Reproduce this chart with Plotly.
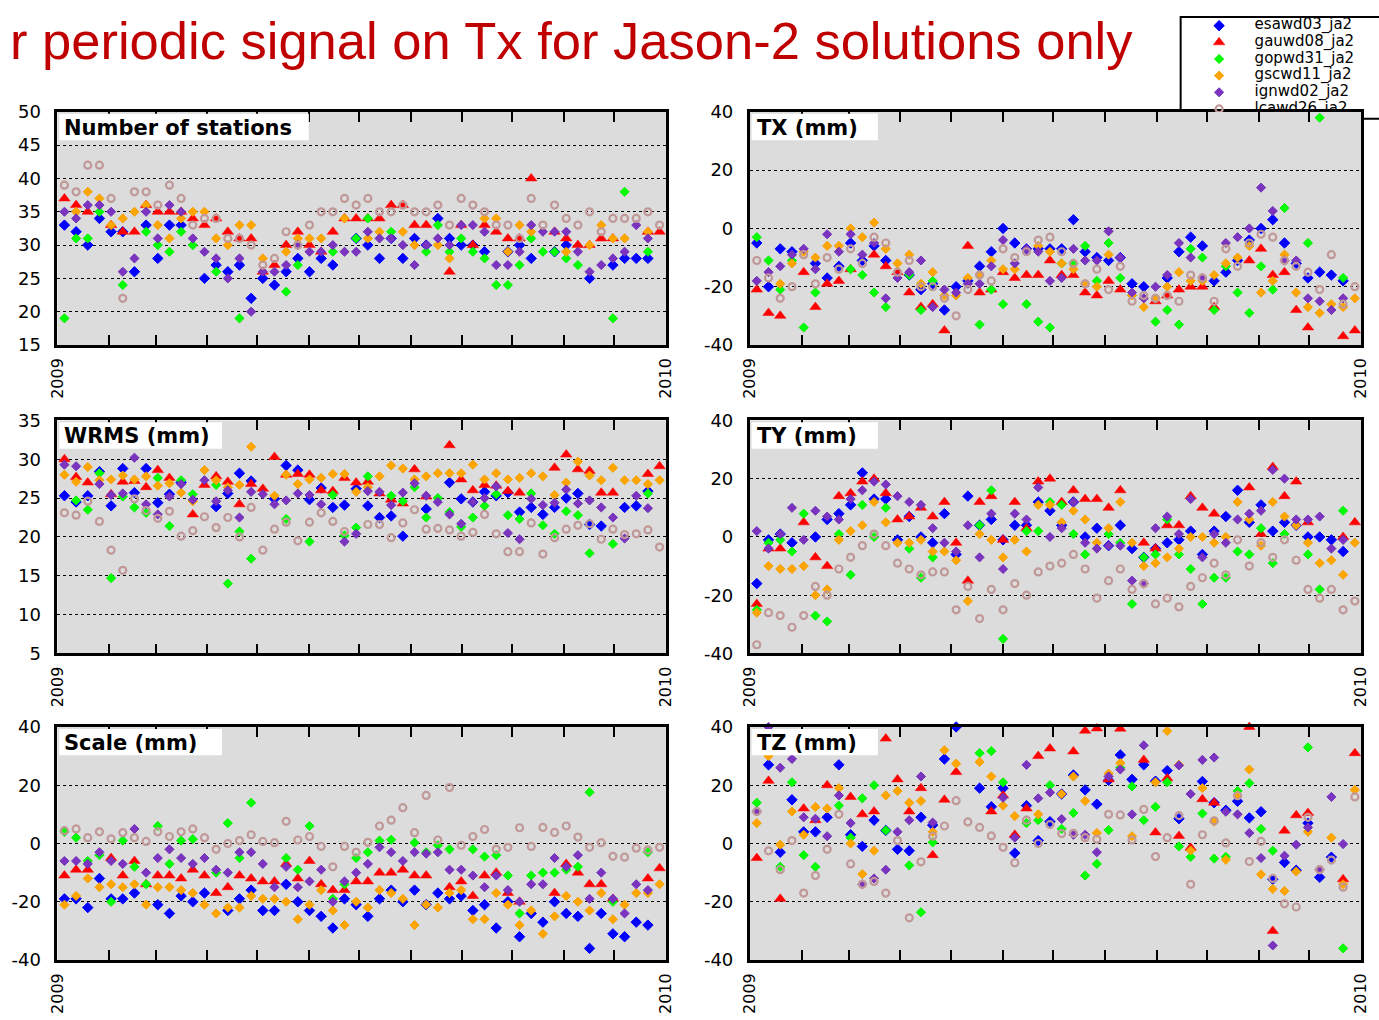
import pandas as pd
import plotly.graph_objects as go

FIG_W, FIG_H = 1379, 1020
N = None

# ---- time axis -----------------------------------------------------------
weeks = pd.date_range("2009-01-05 06:00", periods=52, freq="7D")
month_ticks = pd.date_range("2009-01-01", "2010-01-01", freq="MS")
month_labels = ["2009"] + [""] * 11 + ["2010"]

solutions = ["esawd03_ja2", "gauwd08_ja2", "gopwd31_ja2",
             "gscwd11_ja2", "ignwd02_ja2", "lcawd26_ja2"]

# ---- y tick values per panel type -----------------------------------------
stations_ticks = [15, 20, 25, 30, 35, 40, 45, 50]
wrms_ticks = [5, 10, 15, 20, 25, 30, 35]
mm_ticks = [-40, -20, 0, 20, 40]

# ---- Number of stations --------------------------------------------------
stations_esa = [33,32,30,34,32,32,26,33,28,33,33,N,25,27,26,27,22,25,24,26,28,26,28,27,N,31,30,28,31,28,31,30,34,31,30,30,29,N,29,30,28,N,29,30,N,25,N,27,28,28,28,N]
stations_gau = [37,36,35,N,33,32,32,36,35,35,35,34,33,34,32,31,31,26,27,30,32,30,29,32,34,34,34,34,36,36,33,33,N,26,33,30,33,32,31,31,40,N,32,31,30,30,31,31,N,N,32,32]
stations_gop = [19,31,31,35,N,24,N,32,30,29,32,30,N,26,N,19,N,N,N,23,27,N,N,29,N,31,34,N,32,N,N,29,33,29,31,29,28,24,24,27,31,29,29,28,27,N,N,19,38,N,29,N]
stations_gsc = [N,35,38,37,33,34,35,36,33,31,34,35,35,31,30,33,33,28,N,29,31,31,31,N,34,N,31,32,N,32,30,N,30,28,N,N,34,34,29,33,32,N,N,29,N,30,33,31,31,N,32,N]
stations_ign = [35,34,36,36,35,26,28,35,31,36,35,31,29,28,25,28,20,26,26,27,30,29,29,30,29,29,32,31,31,30,27,30,31,30,33,33,32,27,27,29,33,32,32,32,29,26,27,28,29,33,31,N]
stations_lca = [39,38,42,42,37,22,38,38,36,39,37,33,34,34,31,31,30,27,28,32,30,33,35,35,37,36,37,35,35,36,35,35,36,33,37,36,35,33,33,31,37,33,36,34,33,35,32,34,34,34,35,33]

# ---- TX (mm) -------------------------------------------------------------
tx_esa = [-5,-20,-7,-8,N,-12,-17,-13,-5,-11,-6,-11,N,-16,-21,-19,-28,-20,-18,-13,-8,0,-5,-7,-7,-7,-7,3,-8,-10,-11,-10,-19,-20,N,-17,-8,-3,-6,-18,-15,-11,-4,0,3,-5,-12,-17,-15,-16,-18,N]
tx_gau = [-21,-29,-30,N,-15,-27,-19,-18,-14,N,-9,-13,-15,-22,-27,-26,-35,N,-6,-22,-21,-15,-17,-16,-16,-11,-16,-16,-22,-23,-18,-21,N,N,-25,-23,-21,-20,-20,-27,N,N,-11,-7,-16,-15,-28,-34,N,N,-37,-35]
tx_gop = [-3,-11,-21,-11,-34,-22,N,N,-14,-16,-22,-27,N,-16,-28,-18,N,N,N,-33,-21,-26,N,-26,-32,-34,-12,-12,-6,-18,-5,-17,-23,N,-32,-28,-33,-7,-10,-28,-13,-22,-29,-13,-21,7,N,-5,38,N,-17,N]
tx_gsc = [N,N,-19,-12,-8,-10,-6,-6,0,-3,2,-7,-12,-9,-19,-15,-23,-23,-17,-16,-11,-14,-14,N,-6,-8,-12,-14,-19,-20,-9,N,-23,-27,-24,-20,-15,-18,-18,-16,-12,-10,-6,-22,-18,-9,-22,-27,-29,-26,-27,-24]
tx_ign = [-18,-15,-13,-9,-7,-14,-2,-8,-2,-9,-5,-24,-17,-15,-11,-27,-21,-22,-19,-19,-13,-4,-12,-7,-8,-18,-17,-7,-11,-11,-1,-10,-22,-24,-20,-16,-5,-10,-17,N,-5,-3,0,14,6,-11,-11,-24,-25,-28,-24,N]
tx_lca = [-11,-17,-24,-20,-9,-19,-10,-14,-7,-12,-3,-5,-15,-11,-20,-20,-24,-30,-21,-16,-18,-7,-10,-8,-4,-3,-8,-12,-19,-14,-21,-13,-25,-23,-24,-23,-25,-16,-17,-25,-7,-13,-5,-2,-3,-11,-13,-15,-21,-9,-26,-20]

# ---- WRMS (mm) -----------------------------------------------------------
wrms_esa = [25.3,24.5,25.3,28.4,24.0,28.8,25.7,28.8,24.4,25.5,27.0,N,N,23.9,25.6,28.2,27.2,N,24.9,29.2,28.6,24.8,26.3,23.8,24.1,26.2,24.0,22.5,22.7,20.1,N,23.6,N,27.0,24.9,24.5,25.8,25.3,25.7,23.2,23.8,22.9,23.8,25.0,25.6,21.6,21.4,N,23.8,24.0,25.9,N]
wrms_gau = [30.0,27.7,27.0,N,25.5,27.1,27.2,26.4,28.6,27.6,N,22.9,26.7,27.8,27.1,24.2,26.8,26.2,30.3,28.0,28.1,28.0,26.0,25.9,27.6,27.0,27.1,25.6,24.8,24.3,28.7,25.2,N,31.8,27.4,26.0,26.7,26.6,25.9,25.7,N,N,28.9,30.6,28.7,28.5,25.7,25.7,N,N,28.1,29.1]
wrms_gop = [N,24.7,23.5,28.2,14.7,25.2,23.8,23.1,27.6,21.4,27.3,25.5,N,26.7,14.0,20.7,17.2,N,N,22.3,N,19.4,N,25.4,20.2,21.2,27.8,N,25.3,24.6,26.4,22.5,25.0,23.2,21.3,22.5,24.0,25.5,22.8,22.3,25.6,21.5,20.4,23.3,22.8,17.9,N,19.1,N,N,25.6,N]
wrms_gsc = [28.0,27.1,29.0,27.3,27.4,27.9,27.4,27.8,26.6,26.9,25.7,24.6,28.6,27.3,26.4,26.7,31.6,N,25.3,28.0,26.8,27.4,27.6,28.1,28.1,25.8,26.4,27.8,29.2,28.8,27.4,27.8,28.2,28.2,28.2,29.3,27.4,28.2,27.4,27.6,28.2,27.8,25.4,27.0,29.7,27.9,27.3,28.9,27.3,27.3,26.8,27.3]
wrms_ign = [29.3,29.1,N,26.8,25.4,25.6,30.2,24.2,22.9,25.2,26.8,24.8,27.3,24.6,26.0,22.5,25.8,25.5,24.2,24.7,25.6,25.4,24.2,N,19.4,20.4,25.9,25.8,24.1,25.7,26.9,25.3,24.5,22.9,21.7,24.5,25.0,26.5,20.5,19.7,24.9,24.1,24.4,26.1,24.3,24.7,23.8,22.5,19.8,25.3,23.7,N]
wrms_lca = [23.1,22.8,24.6,22.0,18.3,15.7,24.9,23.4,22.4,23.3,20.1,20.8,22.6,21.2,22.5,20.0,23.8,18.3,21.0,21.9,19.5,21.9,23.1,22.0,20.7,N,21.6,21.6,19.9,21.8,23.5,21.0,21.1,20.9,20.1,20.6,22.9,20.4,18.1,18.1,21.8,17.8,19.9,21.0,21.5,21.7,19.7,21.0,20.3,20.4,20.9,18.7]

# ---- TY (mm) -------------------------------------------------------------
ty_esa = [-16,-1,1,-2,N,0,6,8,11,22,13,13,-1,7,0,-2,8,-6,14,4,6,-1,4,4,12,9,4,12,0,3,-3,4,-4,-7,-4,-2,-1,2,-6,2,7,16,5,11,2,5,4,0,0,-1,-5,N]
ty_gau = [-23,-4,-4,N,5,-7,-10,14,15,19,20,15,6,7,10,7,12,-2,-15,12,14,-1,12,3,19,20,12,16,13,13,10,16,N,-2,-4,4,4,14,10,8,N,N,17,1,24,14,19,5,N,N,0,5]
ty_gop = [-25,-2,-1,-5,8,-27,-29,1,-13,11,0,10,N,-4,-14,-7,N,N,N,4,16,-35,N,2,2,12,11,1,-6,N,1,-2,-23,-7,-6,6,-6,-11,-23,-14,-14,-5,-6,3,-9,1,N,-6,-18,N,9,N]
ty_gsc = [-26,-10,-11,-11,-10,-20,-18,-1,2,4,12,5,-2,-2,-1,-5,-5,-8,-22,1,-1,-7,-1,-5,11,11,5,9,6,-2,3,12,-2,-10,-9,-7,-4,0,0,-2,0,12,6,-3,12,7,4,-2,-9,-8,-13,-2]
ty_ign = [2,-4,1,10,-1,9,7,6,13,16,19,18,14,12,11,3,-2,-5,4,-7,8,-11,8,6,17,0,3,12,-2,-4,-3,-3,-15,-16,3,7,1,13,-7,1,-2,6,8,9,23,20,6,6,7,-4,-1,N]
ty_lca = [-37,-26,-27,-31,-27,-17,-20,-11,-7,-3,1,-3,-9,-11,-13,-12,-12,-25,-17,-28,-18,-25,-16,-20,-12,-10,-9,-6,-11,-21,-15,-11,-18,-16,-23,-21,-24,-17,-14,-9,-13,-1,-10,-2,-7,-1,-8,-18,-21,-18,-25,-22]

# ---- Scale (mm) ----------------------------------------------------------
scale_esa = [-19,-19,-22,-12,-19,-19,-17,N,-21,-24,-18,-20,-17,N,-23,-19,-16,-23,-23,-14,-20,-23,-25,-29,-19,-21,-25,-19,-16,-20,-16,-21,-17,-19,-18,-23,-21,-29,-20,-32,-24,-27,-20,-24,-25,-36,-24,-31,-32,-27,-28,N]
scale_gau = [-11,-9,-9,N,-5,-11,-6,-14,-11,-11,-12,-9,-11,-17,-15,-11,-12,-13,-13,-7,-12,-6,-14,-16,-16,-13,-13,-10,-10,-9,-11,-11,N,-15,-13,-18,-11,-10,-17,-20,N,N,-17,-7,-10,-14,-14,-19,N,N,-12,-8.5]
scale_gop = [4,2,-6,-4,-20,1,-8,-14,6,-7,1,1.5,N,-10,7,-5,14,N,N,-5,-9,6,N,-19,-14,-5,-3,1,1.3,N,0.3,-3,-0.6,-2,N,-2,-4.5,-4,-11,-24,-11,-10,-10,-9,-8,17.6,N,-20,N,N,-3,N]
scale_gsc = [-21,-18,-12,-15,-14,-15,-14,-21,-15,-15,-16,-17,-21,-24,-22,-22,-18,-19,-19,-20,-26,-21,-16,-23,-28,-20,-22,-16,-17,-19,-28,-21,-22,-17,-16,-26,-26,-17,-21,-28,-23,-31,-25,-18,-20,-23,-17,-26,-21,-17,-17,-14]
scale_ign = [-6,-6,-7,-3,-6,-7,5,-10,-5,-2,-5,-7,-5,-9,-10,-3,-3,-7,-15,-8,-15,-13,-9,-20,-13,-10,-7,-1.3,-3,-6,-3,-3.5,-3,-9,-9,-11,-15,-11,-16,-20,-14,-14,-5,-8,-4,-19,-10,-19,-24,-14,-16,N]
scale_lca = [4.4,5,2,4,1.6,3.7,2,0.7,4,2.4,4,5,2,-2,0,1,3,0.7,0.3,7.6,1.2,2.4,-1,-8,-1,-3,0.4,6,8,12.3,3.7,16.5,1.2,19.2,-0.6,2.4,4.8,-2,-1.3,5.4,-1,5.5,3.8,6,2.2,-1.3,0.3,-4.4,-4.7,-1.6,-2.2,-1.3]

# ---- TZ (mm) -------------------------------------------------------------
tz_esa = [N,27,-3,15,4,4,9,27,3,-1,8,4.5,-2,-2.5,9,6.3,29,40,N,19,12.6,19,-3.3,13,1,7.5,17,23.5,18.4,13.5,21.7,30.4,22,27,21.4,25,8.5,N,21.3,14,11.4,14.5,8.8,10.9,-12.3,-6.5,-9.2,7,-11.6,-4.7,N,N]
tz_gau = [-5,21.5,-19,N,12,8,20,N,16,10,11,36,22,11,19,-4,15,24.5,N,N,11,16.5,3,12,30,32.6,N,31.6,38.7,39.5,22,39.4,N,28.7,3.8,22.4,2.6,-1.5,15.2,14,N,N,40,N,-30,4.4,9.7,10.5,N,N,-12.3,31]
tz_gop = [14,N,-8,21,-4,-8,N,13,2,15.5,20,4.5,N,-7.5,-23.6,0.4,N,N,N,31,31.7,21,N,7,8,20,5,10.5,-11,-7,4.6,26,19.6,8,12.6,21,-1,-4.6,10.3,-5.2,-4.6,18,20.7,5,-2.5,N,N,33,N,N,-36,N]
tz_gsc = [7,30,-0.4,11,3,12.5,12,19,0,-10.5,-2.5,16.5,18,14,14.6,4,32,27.4,N,28,23,13,9.4,N,10,N,17,23,14.6,3.6,24,27.6,2.5,N,21,38.6,27,-2.4,19,7.5,-5.6,16.6,25.4,-10.6,-15.6,-16.3,-9.6,4,-9,2,-14,18.4]
tz_ign = [11,40,26,29,9,8.5,2.5,16.5,7,-14,-12,-9,4,8,23,7.2,N,N,N,N,N,15.7,2,27,15.5,17.5,8.4,3,3,-3,23,25.4,10,33.7,N,N,26.8,17,28.7,29.5,10.9,10,3.6,-5,-35,-4.2,-0.4,5.5,-9,16,-0.2,N]
tz_lca = [11,-2.5,-9,1,-17,-11,-2,10,-7,-14,-13,-17,1,-25.5,-6.3,2.5,6,14.7,7.4,5.5,2.6,-1.3,-6.6,8,0,6.5,3.4,3.5,2,1.5,10,9.8,1.2,11.7,-4.5,2,9.6,-14,3,7.8,0.2,16.4,-6.2,0.7,-12,-20.7,-21.8,9,-9,-5.7,-15,16]

# ---- marker styling per solution ----------------------------------------
styles = [
    dict(symbol="diamond", size=8, color="#0000ff", line=dict(width=1, color="#0000ff")),
    dict(symbol="triangle-up", size=10, color="#ff0000", line=dict(width=0.5, color="#ff0000")),
    dict(symbol="diamond", size=7, color="#00ff00", line=dict(width=1, color="#00ee00")),
    dict(symbol="diamond", size=7, color="#ffa500", line=dict(width=1, color="#f5a000")),
    dict(symbol="diamond", size=7, color="#7b33c0", line=dict(width=1, color="#7030b8")),
    dict(symbol="circle-open", size=7, color="#c09898", line=dict(width=2.2, color="#c09898")),
]

# panel definitions: title, series, y ticks, x extent, y extent, title box width
LEFT = (48, 665)
RIGHT = (750, 1370)
ROWS = [(103, 341), (418, 656), (731, 969)]
panels = [
    ("Number of stations", [stations_esa, stations_gau, stations_gop, stations_gsc, stations_ign, stations_lca], stations_ticks, LEFT, ROWS[0], 255),
    ("TX (mm)", [tx_esa, tx_gau, tx_gop, tx_gsc, tx_ign, tx_lca], mm_ticks, RIGHT, ROWS[0], 130),
    ("WRMS (mm)", [wrms_esa, wrms_gau, wrms_gop, wrms_gsc, wrms_ign, wrms_lca], wrms_ticks, LEFT, ROWS[1], 167),
    ("TY (mm)", [ty_esa, ty_gau, ty_gop, ty_gsc, ty_ign, ty_lca], mm_ticks, RIGHT, ROWS[1], 130),
    ("Scale (mm)", [scale_esa, scale_gau, scale_gop, scale_gsc, scale_ign, scale_lca], mm_ticks, LEFT, ROWS[2], 167),
    ("TZ (mm)", [tz_esa, tz_gau, tz_gop, tz_gsc, tz_ign, tz_lca], mm_ticks, RIGHT, ROWS[2], 130),
]


def px_x(x):
    return x / FIG_W


def px_y(y):
    return 1 - y / FIG_H


TICK_FONT = dict(family="DejaVu Sans", size=18, color="black")

fig = go.Figure()
layout = dict(
    width=FIG_W, height=FIG_H,
    margin=dict(l=0, r=0, t=0, b=0),
    paper_bgcolor="white",
    plot_bgcolor="rgba(0,0,0,0)",
    showlegend=False,
)
shapes = []
annotations = []

# legend frame (partly hidden behind the TX panel)
shapes.append(dict(type="rect", xref="paper", yref="paper", layer="below",
                   x0=px_x(1187), x1=px_x(1392), y0=px_y(110), y1=px_y(6),
                   fillcolor="white", line=dict(color="black", width=2)))

for i, (title, series, yticks, (xl, xr), (yt, yb), box_w) in enumerate(panels):
    n = i + 1
    xa = "x" if n == 1 else f"x{n}"
    ya = "y" if n == 1 else f"y{n}"
    xkey = "xaxis" if n == 1 else f"xaxis{n}"
    ykey = "yaxis" if n == 1 else f"yaxis{n}"

    layout[xkey] = dict(
        domain=[px_x(xl), px_x(xr)], anchor=ya, type="date",
        range=[month_ticks[0], month_ticks[-1]],
        tickmode="array", tickvals=list(month_ticks), ticktext=month_labels,
        tickangle=-90, ticks="inside", ticklen=10, tickwidth=2, tickcolor="black",
        showline=True, linewidth=2.5, linecolor="black", mirror="allticks",
        showgrid=False, zeroline=False, tickfont=dict(family="DejaVu Sans", size=16, color="black"),
        ticklabelstandoff=4, fixedrange=True,
    )
    layout[ykey] = dict(
        domain=[px_y(yb), px_y(yt)], anchor=xa,
        range=[yticks[0], yticks[-1]],
        tickmode="array", tickvals=yticks, ticktext=[str(v) for v in yticks],
        ticks="", showline=True, linewidth=2.5, linecolor="black", mirror=True,
        showgrid=True, gridcolor="black", gridwidth=1.2, griddash="dot",
        zeroline=False, tickfont=TICK_FONT, ticklabelstandoff=10, fixedrange=True,
    )

    # grey plotting area
    shapes.append(dict(type="rect", xref="paper", yref="paper", layer="below",
                       x0=px_x(xl), x1=px_x(xr), y0=px_y(yb), y1=px_y(yt),
                       fillcolor="#dcdcdc", line=dict(width=0)))
    # white title box in the upper-left corner
    shapes.append(dict(type="rect", xref="paper", yref="paper", layer="above",
                       x0=px_x(xl + 2), x1=px_x(xl + box_w), y0=px_y(yt + 29), y1=px_y(yt + 2),
                       fillcolor="white", line=dict(width=0)))
    annotations.append(dict(xref="paper", yref="paper", x=px_x(xl + 5), y=px_y(yt + 16),
                            xanchor="left", yanchor="middle", showarrow=False,
                            text=f"<b>{title}</b>",
                            font=dict(family="DejaVu Sans", size=21, color="black")))

    for name, values, st in zip(solutions, series, styles):
        fig.add_trace(go.Scatter(
            x=weeks, y=values, mode="markers", name=name,
            xaxis=xa, yaxis=ya, cliponaxis=False,
            marker=dict(symbol=st["symbol"], size=st["size"], color=st["color"], line=st["line"]),
        ))

# legend keys drawn in a small dedicated subplot at the top-right corner
legend_rows = [9, 26, 43, 60, 77, 94]
layout["xaxis7"] = dict(domain=[px_x(1187), 1.0], anchor="y7", range=[0, 192], visible=False, fixedrange=True)
layout["yaxis7"] = dict(domain=[px_y(103), px_y(6)], anchor="x7", range=[97, 0], visible=False, fixedrange=True)
for name, st, row in zip(solutions, styles, legend_rows):
    fig.add_trace(go.Scatter(
        x=[39], y=[row], mode="markers", xaxis="x7", yaxis="y7", cliponaxis=True,
        marker=dict(symbol=st["symbol"], size=st["size"], color=st["color"], line=st["line"]),
        hoverinfo="skip",
    ))
    fig.add_trace(go.Scatter(
        x=[75], y=[row], mode="text", text=[name], textposition="middle right",
        xaxis="x7", yaxis="y7", cliponaxis=True,
        textfont=dict(family="DejaVu Sans", size=15, color="black"), hoverinfo="skip",
    ))

# page heading
annotations.append(dict(xref="paper", yref="paper", x=px_x(-2), y=px_y(30),
                        xanchor="left", yanchor="middle", showarrow=False,
                        text="r periodic signal on Tx for Jason-2 solutions only",
                        font=dict(family="Liberation Sans, Arial", size=52.5, color="#c00000")))

layout["shapes"] = shapes
layout["annotations"] = annotations
fig.update_layout(**layout)
fig.write_html("out.html")
